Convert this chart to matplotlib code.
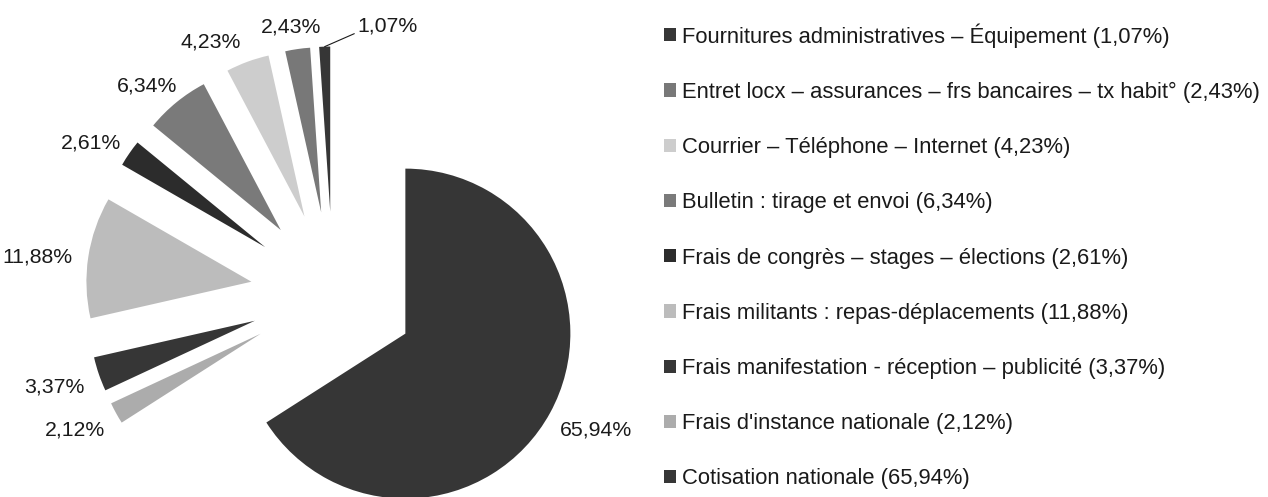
import matplotlib
matplotlib.use('Agg')
import numpy as np
import matplotlib.pyplot as plt
from matplotlib.offsetbox import AnnotationBbox, TextArea

plt.rcParams['font.family'] = ['Liberation Sans', 'DejaVu Sans']

# Donnees (ordre horaire depuis midi)
categories = [
    "Cotisation nationale",
    "Frais d'instance nationale",
    "Frais manifestation - réception – publicité",
    "Frais militants : repas-déplacements",
    "Frais de congrès – stages – élections",
    "Bulletin : tirage et envoi",
    "Courrier – Téléphone – Internet",
    "Entret locx – assurances – frs bancaires – tx habit°",
    "Fournitures administratives – Équipement",
]
values = [65.94, 2.12, 3.37, 11.88, 2.61, 6.34, 4.23, 2.43, 1.07]
colors = ['#363636', '#acacac', '#363636', '#bcbcbc', '#2c2c2c',
          '#7a7a7a', '#cdcdcd', '#787878', '#363636']

def fmt(v):
    return f"{v:.2f}".replace('.', ',') + '%'

W, H = 1268, 497
cx, cy, rpx = 333, 294, 165   # centre du camembert en pixels (depuis le haut)
fs = 15.3
txt_col = '#1a1a1a'

fig = plt.figure(figsize=(W / 100, H / 100), dpi=100)
ax = fig.add_axes([0, 0, 1, 1])

wedges, _ = ax.pie(values, colors=colors, startangle=90, counterclock=False,
                   explode=[0.5] * len(values), radius=1,
                   wedgeprops={'linewidth': 0})

# etiquettes "best fit" : boite de texte posee juste a l'exterieur de chaque part
for i, (w, v) in enumerate(zip(wedges[:-1], values[:-1])):
    th = np.deg2rad((w.theta1 + w.theta2) / 2)
    dx, dy = np.cos(th), np.sin(th)
    pt = (w.center[0] + 1.1 * w.r * dx, w.center[1] + 1.1 * w.r * dy)
    nudge = (-15, -3) if i == 6 else (0, -3)   # 4,23% decale a gauche comme dans l'original
    ta = TextArea(fmt(v), textprops=dict(fontsize=fs, color=txt_col))
    ab = AnnotationBbox(ta, pt, xycoords='data', xybox=nudge, boxcoords='offset points',
                        frameon=False, pad=0,
                        box_alignment=(0.5 - 0.5 * dx, 0.5 - 0.5 * dy))
    ax.add_artist(ab)

# etiquette avec ligne de rappel pour la plus petite part
w = wedges[-1]
th = np.deg2rad((w.theta1 + w.theta2) / 2)
px = w.center[0] + w.r * np.cos(th)
py = w.center[1] + w.r * np.sin(th)
ax.annotate(fmt(values[-1]), xy=(px, py), xytext=(45, 15), textcoords='offset points',
            fontsize=fs, color=txt_col, ha='center', va='center',
            arrowprops=dict(arrowstyle='-', color=txt_col, lw=0.8,
                            relpos=(0.0, 0.15), shrinkA=0, shrinkB=0))

ax.set_xlim(-cx / rpx, (W - cx) / rpx)
ax.set_ylim(-(H - cy) / rpx, cy / rpx)
ax.set_aspect('auto')
ax.axis('off')

leg = fig.legend(wedges[::-1], [f"{c} ({fmt(v)})" for c, v in zip(categories[::-1], values[::-1])],
                 loc='upper left', bbox_to_anchor=(664 / W, 1 - 23 / H),
                 frameon=False, fontsize=15.8, handlelength=0.55, handleheight=0.55,
                 handletextpad=0.27, labelspacing=1.56, borderpad=0, borderaxespad=0)
for t in leg.get_texts():
    t.set_color(txt_col)

fig.savefig('out.png', dpi=100)
